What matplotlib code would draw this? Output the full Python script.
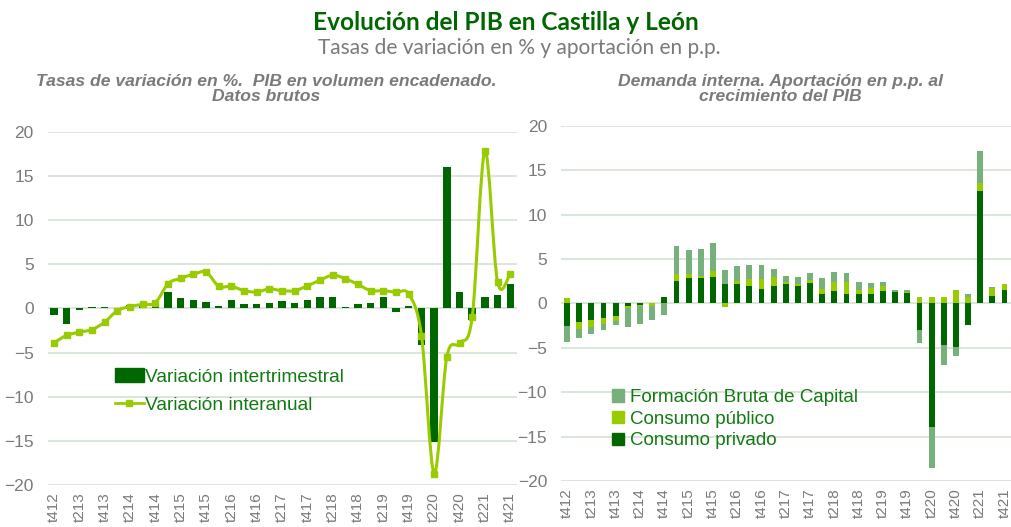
import numpy as np
import matplotlib
matplotlib.use("Agg")
import matplotlib.pyplot as plt
from matplotlib.path import Path
from matplotlib.patches import PathPatch, Patch
from matplotlib.lines import Line2D

# trimestres t412 ... t421
quarters = ['t412', 't113', 't213', 't313', 't413', 't114', 't214', 't314', 't414',
            't115', 't215', 't315', 't415', 't116', 't216', 't316', 't416',
            't117', 't217', 't317', 't417', 't118', 't218', 't318', 't418',
            't119', 't219', 't319', 't419', 't120', 't220', 't320', 't420',
            't121', 't221', 't321', 't421']

# panel izquierdo
var_intertrim = [-0.8, -1.8, -0.2, 0.2, 0.2, -0.1, 0.4, 0.3, 0.5,
                 1.8, 1.15, 0.9, 0.7, 0.3, 1.0, 0.5, 0.5,
                 0.6, 0.85, 0.55, 1.0, 1.3, 1.3, 0.15, 0.45,
                 0.65, 1.3, -0.4, 0.25, -4.2, -15.1, 16.0, 1.9,
                 -1.3, 1.3, 1.5, 2.8]
var_interanual = [-3.9, -3.05, -2.7, -2.4, -1.55, -0.25, 0.2, 0.45, 0.65,
                  2.8, 3.4, 3.85, 4.1, 2.5, 2.5, 2.0, 1.85,
                  2.2, 2.0, 2.0, 2.55, 3.2, 3.75, 3.35, 2.7,
                  2.0, 2.0, 1.8, 1.6, -3.1, -18.7, -5.5, -3.95,
                  -1.0, 17.8, 3.0, 3.9]

# panel derecho (aportaciones en p.p.)
consumo_privado = [-2.5, -2.05, -1.9, -1.7, -1.4, -0.3, -0.2, 0.05, 0.75,
                   2.55, 2.8, 2.8, 3.0, 2.15, 2.15, 1.9, 1.65,
                   2.0, 2.2, 2.0, 2.3, 1.1, 1.35, 1.1, 1.0,
                   1.1, 1.35, 1.25, 1.2, -2.95, -13.9, -4.65, -4.9,
                   -2.4, 12.6, 0.8, 1.45]
consumo_publico = [0.6, -0.85, -0.8, -0.6, -0.55, -0.2, -0.15, -0.25, 0.0,
                   0.75, 0.45, 0.3, 0.6, -0.45, 0.4, 0.85, 1.1,
                   0.95, 0.15, 0.2, 0.35, 0.55, 1.1, 1.25, 0.5,
                   0.65, 0.55, 0.05, 0.05, 0.75, 0.7, 0.7, 1.5,
                   0.75, 0.9, 0.95, 0.7]
fbc = [-1.8, -1.0, -0.8, -0.65, -0.45, -2.2, -2.0, -1.6, -1.3,
       3.15, 2.75, 3.0, 3.15, 1.6, 1.6, 1.6, 1.6,
       0.95, 0.75, 0.8, 0.8, 1.15, 1.05, 1.1, 0.85,
       0.55, 0.5, 0.2, 0.2, -1.55, -4.6, -2.3, -1.05,
       0.25, 3.7, 0.05, 0.05]

c_dark = '#006600'
c_lime = '#99cc00'
c_fbc = '#76b07a'
c_grid = '#d6e4d6'
c_gray = '#7a7a7a'
c_text = '#127a12'

plt.rcParams['font.family'] = ['Liberation Sans', 'DejaVu Sans']

fig = plt.figure(figsize=(10.11, 5.27), dpi=100)
ax1 = fig.add_axes([0.0472, 0.0797, 0.4637, 0.6704])
ax2 = fig.add_axes([0.5549, 0.0873, 0.4447, 0.6742])

x = np.arange(len(quarters))


def style(ax):
    ax.set_xlim(-0.5, len(quarters) - 0.5)
    ax.set_ylim(-20, 20)
    ax.set_yticks(np.arange(-20, 21, 5))
    ax.set_xticks(x[::2])
    ax.set_xticklabels(quarters[::2], rotation=90)
    for s in ax.spines.values():
        s.set_visible(False)
    ax.grid(axis='y', color=c_grid, lw=1.3)
    ax.set_axisbelow(True)
    ax.tick_params(length=0, colors=c_gray)
    ax.tick_params(axis='y', pad=10, labelsize=12.5)
    ax.tick_params(axis='x', pad=5, labelsize=11)


def smooth_path(xs, ys):
    # curva suavizada tipo Excel (Catmull-Rom a Bezier)
    pts = np.column_stack([xs, ys]).astype(float)
    verts = [pts[0]]
    codes = [Path.MOVETO]
    n = len(pts)
    for i in range(n - 1):
        p0 = pts[max(i - 1, 0)]
        p1 = pts[i]
        p2 = pts[i + 1]
        p3 = pts[min(i + 2, n - 1)]
        verts += [p1 + (p2 - p0) / 6, p2 - (p3 - p1) / 6, p2]
        codes += [Path.CURVE4] * 3
    return Path(verts, codes)


# ---- panel izquierdo
style(ax1)
ax1.bar(x, var_intertrim, width=0.58, color=c_dark, zorder=2)
ax1.add_patch(PathPatch(smooth_path(x, var_interanual), fill=False,
                        edgecolor=c_lime, lw=2.2, zorder=3))
ax1.plot(x, var_interanual, 's', color=c_lime, ms=5, zorder=4)
h1 = [Patch(color=c_dark), Line2D([], [], color=c_lime, lw=2, marker='s', ms=4)]
ax1.legend(h1, ['Variación intertrimestral', 'Variación interanual'],
           loc='upper left', bbox_to_anchor=(0.143, 0.332), frameon=False,
           fontsize=13.8, labelcolor=c_text, borderpad=0, borderaxespad=0,
           handlelength=1.5, handleheight=0.8, handletextpad=0.1, labelspacing=0.55)

# ---- panel derecho: apilado Excel (positivos arriba, negativos abajo)
series = [consumo_privado, consumo_publico, fbc]
colors = [c_dark, c_lime, c_fbc]
pos_base = np.zeros(len(x))
neg_base = np.zeros(len(x))
style(ax2)
for vals, col in zip(series, colors):
    v = np.array(vals)
    base = np.where(v >= 0, pos_base, neg_base)
    ax2.bar(x, v, bottom=base, width=0.48, color=col, zorder=2)
    pos_base = pos_base + np.clip(v, 0, None)
    neg_base = neg_base + np.clip(v, None, 0)
h2 = [Patch(color=c_fbc), Patch(color=c_lime), Patch(color=c_dark)]
ax2.legend(h2, ['Formación Bruta de Capital', 'Consumo público', 'Consumo privado'],
           loc='upper left', bbox_to_anchor=(0.113, 0.259), frameon=False,
           fontsize=13.5, labelcolor=c_text, borderpad=0, borderaxespad=0,
           handlelength=0.65, handleheight=0.65, handletextpad=0.3, labelspacing=0.25)

# ---- textos
fig.text(0.5, 0.958, 'Evolución del PIB en Castilla y León', ha='center', va='center',
         fontsize=17.6, fontweight='bold', color=c_dark, family=['Lato', 'DejaVu Sans'])
fig.text(0.514, 0.908, 'Tasas de variación en % y aportación en p.p.', ha='center', va='center',
         fontsize=15, color=c_gray, family=['Lato', 'DejaVu Sans'])
fig.text(0.263, 0.831, 'Tasas de variación en %.  PIB en volumen encadenado.\nDatos brutos',
         ha='center', va='center', fontsize=12.6, fontweight='bold', style='italic',
         color=c_gray, linespacing=1.05)
fig.text(0.772, 0.831, 'Demanda interna. Aportación en p.p. al\ncrecimiento del PIB',
         ha='center', va='center', fontsize=12.6, fontweight='bold', style='italic',
         color=c_gray, linespacing=1.05)

fig.savefig('out.png', dpi=100)
